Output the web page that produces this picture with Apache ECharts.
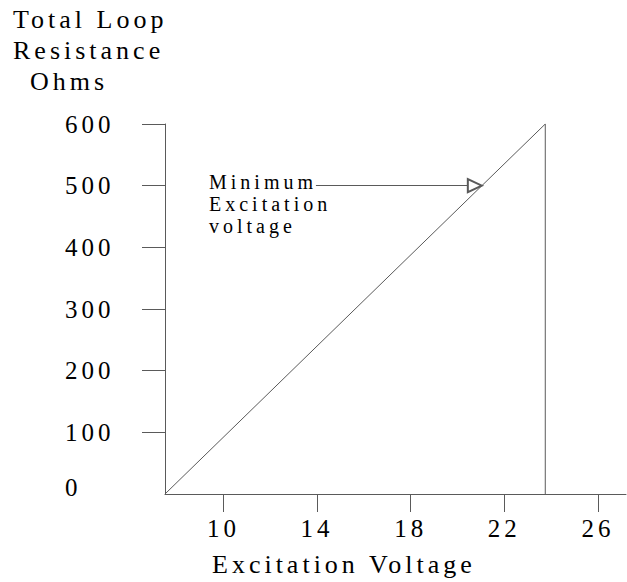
<!doctype html>
<html>
<head>
<meta charset="utf-8">
<title>loop resistance</title>
<script src="https://cdn.jsdelivr.net/npm/echarts@6/dist/echarts.min.js"></script>
<style>
    html, body { margin: 0; padding: 0; background: #fff; }
    #chart { width: 627px; height: 582px; }
    #chart text { letter-spacing: 4px; }
</style>
</head>
<body>
<div id="chart"></div>
<script>
// loop line: rises to 600 ohms, then drops straight down
var loopLine = [[7.5, 0], [23.75, 600], [23.75, 0]];
// arrow from the note to the line at 500 ohms (end = centre of the arrow head)
var arrowFrom = [13.95, 500];
var arrowTo = [20.74, 500];
var xTicks = [10, 14, 18, 22, 26];
var yTicks = [100, 200, 300, 400, 500, 600];
var yTitle = ['Total Loop', 'Resistance', 'Ohms'];
var xTitle = 'Excitation Voltage';
var note = ['Minimum', 'Excitation', 'voltage'];

var font = 'Liberation Serif';
var ink = '#000';
var lineColor = '#5a5a5a';

var option = {
    backgroundColor: '#fff',
    animation: false,
    grid: { left: 165, top: 124, right: 1, bottom: 88 },
    xAxis: {
        type: 'value',
        min: 7.5,
        max: 27.2,
        splitLine: { show: false },
        axisLine: { lineStyle: { color: lineColor, width: 1 } },
        axisTick: { customValues: xTicks, length: 18, lineStyle: { color: lineColor } },
        axisLabel: {
            customValues: xTicks,
            margin: 22,
            color: ink,
            fontFamily: font,
            fontSize: 25
        }
    },
    yAxis: {
        type: 'value',
        min: 0,
        max: 600,
        interval: 100,
        splitLine: { show: false },
        axisLine: { show: true, lineStyle: { color: lineColor, width: 1 } },
        axisTick: { customValues: yTicks, length: 23, lineStyle: { color: lineColor } },
        axisLabel: {
            margin: 100,
            align: 'left',
            color: ink,
            fontFamily: font,
            fontSize: 25,
            formatter: function (v) {
                return v === 0 ? '{z|0}' : String(v);
            },
            rich: {
                z: { fontFamily: font, fontSize: 25, color: ink, padding: [0, 0, 14, 0] }
            }
        }
    },
    series: [{
        type: 'line',
        data: loopLine,
        symbol: 'none',
        lineStyle: { color: lineColor, width: 1 },
        markLine: {
            silent: true,
            symbol: ['none', 'emptyTriangle'],
            symbolSize: [13, 14],
            label: { show: false },
            lineStyle: { color: lineColor, width: 1, type: 'solid' },
            data: [[{ coord: arrowFrom }, { coord: arrowTo }]]
        }
    }],
    graphic: [
        { type: 'text', left: 13, top: 6, style: { text: yTitle[0], font: '26px "' + font + '"', fill: ink } },
        { type: 'text', left: 13, top: 37, style: { text: yTitle[1], font: '26px "' + font + '"', fill: ink } },
        { type: 'text', left: 30, top: 68, style: { text: yTitle[2], font: '26px "' + font + '"', fill: ink } },
        { type: 'text', left: 209, top: 172, style: { text: note[0], font: '20px "' + font + '"', fill: ink } },
        { type: 'text', left: 209, top: 194, style: { text: note[1], font: '20px "' + font + '"', fill: ink } },
        { type: 'text', left: 209, top: 216, style: { text: note[2], font: '20px "' + font + '"', fill: ink } },
        { type: 'text', left: 212, top: 551, style: { text: xTitle, font: '26px "' + font + '"', fill: ink } }
    ]
};

var myChart = echarts.init(document.getElementById('chart'), null, { renderer: 'svg' });
myChart.setOption(option);
</script>
</body>
</html>
